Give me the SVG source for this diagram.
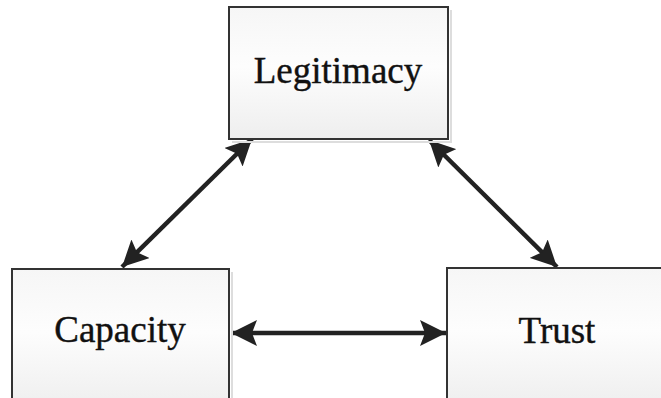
<svg xmlns="http://www.w3.org/2000/svg" width="661" height="398" viewBox="0 0 661 398">
  <defs>
    <linearGradient id="boxFill" x1="0" y1="0" x2="0" y2="1">
      <stop offset="0" stop-color="#f6f6f6"/>
      <stop offset="0.45" stop-color="#fdfdfd"/>
      <stop offset="1" stop-color="#eeeeee"/>
    </linearGradient>
    <marker id="tip" viewBox="0 0 26 26" refX="26" refY="13" markerWidth="26" markerHeight="26" markerUnits="userSpaceOnUse" orient="auto-start-reverse">
      <path d="M0,0 L26,13 L0,26 L5,13 Z" fill="#222222"/>
    </marker>
  </defs>
  <style>
    .box { fill: url(#boxFill); stroke: #333333; stroke-width: 2; }
    .shadow { fill: none; stroke: #dddddd; stroke-width: 2; }
    .label { font-family: "Liberation Serif", "Times New Roman", serif; font-size: 37px; fill: #111111; stroke: #111111; stroke-width: 0.4; text-anchor: middle; }
    .link { stroke: #222222; stroke-width: 4.5; fill: none; marker-start: url(#tip); marker-end: url(#tip); }
  </style>
  <rect width="661" height="398" fill="#ffffff"/>

  <g id="connectors">
    <line class="link" x1="122" y1="267" x2="252" y2="139"/>
    <line class="link" x1="429" y1="140" x2="557" y2="267"/>
    <line class="link" x1="231" y1="333" x2="446" y2="333"/>
  </g>

  <g id="legitimacy">
    <polyline class="shadow" points="451,10 451,142 232,142"/>
    <rect class="box" x="229" y="7" width="219" height="132"/>
    <text class="label" x="338" y="83">Legitimacy</text>
  </g>

  <g id="capacity">
    <polyline class="shadow" points="232,272 232,400"/>
    <rect class="box" x="12" y="269" width="217" height="140"/>
    <text class="label" x="120" y="342">Capacity</text>
  </g>

  <g id="trust">
    <rect class="box" x="447" y="268" width="221" height="140"/>
    <text class="label" x="557" y="343">Trust</text>
  </g>
</svg>
